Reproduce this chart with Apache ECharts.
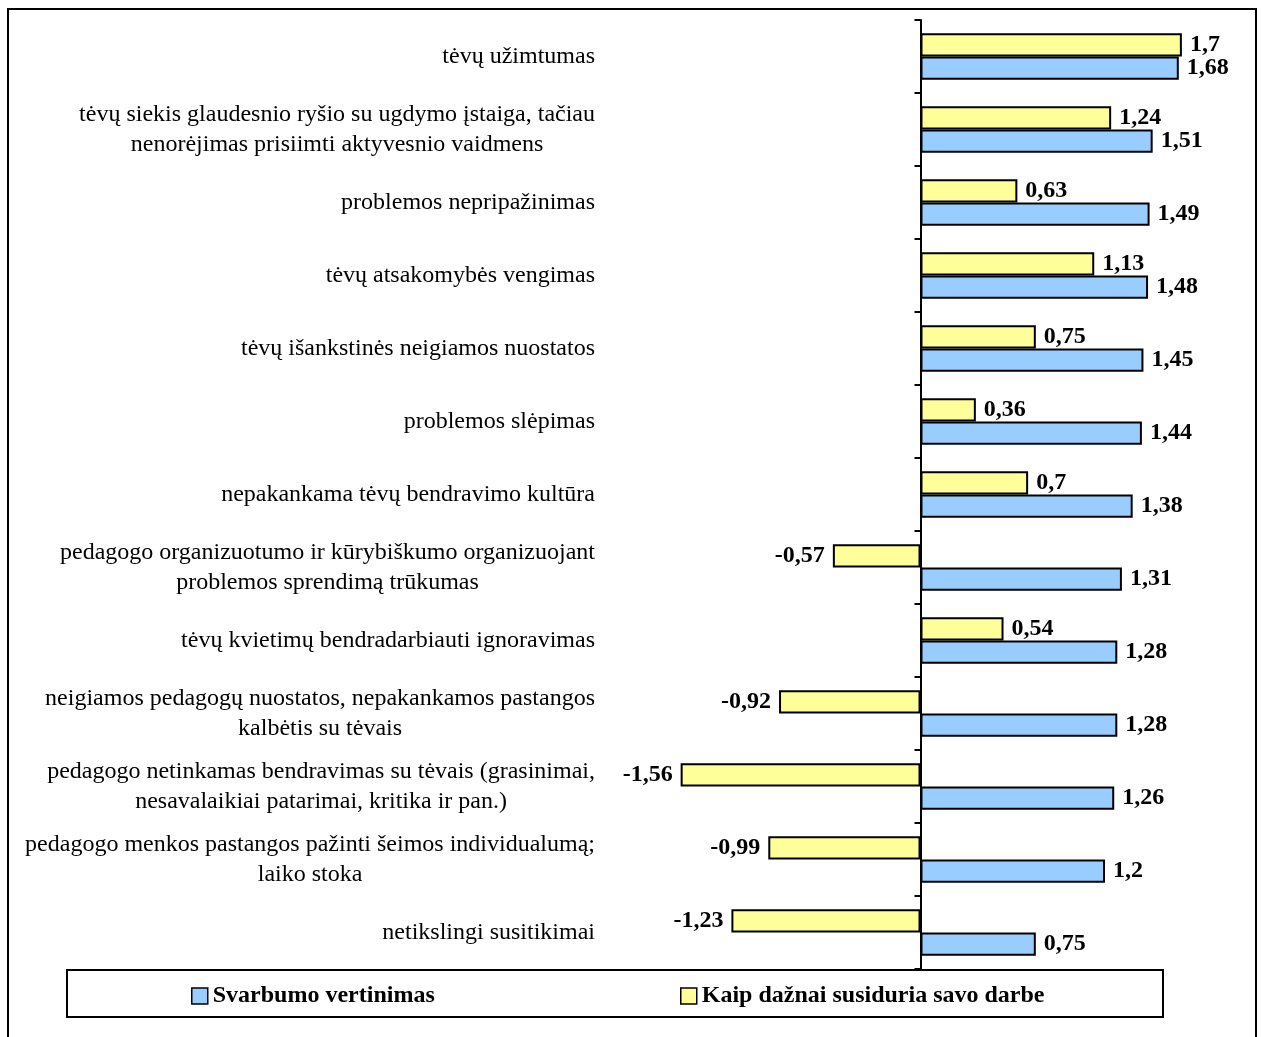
<!DOCTYPE html>
<html>
<head>
<meta charset="utf-8">
<script src="https://cdn.jsdelivr.net/npm/echarts@6/dist/echarts.min.js"></script>
<style>html,body{margin:0;padding:0;background:#fff;}#c{width:1262px;height:1037px;}</style>
</head>
<body>
<div id="c"></div>
<script>
const categories = [
  'tėvų užimtumas',
  'tėvų siekis glaudesnio ryšio su ugdymo įstaiga, tačiau\nnenorėjimas prisiimti aktyvesnio vaidmens',
  'problemos nepripažinimas',
  'tėvų atsakomybės vengimas',
  'tėvų išankstinės neigiamos nuostatos',
  'problemos slėpimas',
  'nepakankama tėvų bendravimo kultūra',
  'pedagogo organizuotumo ir kūrybiškumo organizuojant\nproblemos sprendimą trūkumas',
  'tėvų kvietimų bendradarbiauti ignoravimas',
  'neigiamos pedagogų nuostatos, nepakankamos pastangos\nkalbėtis su tėvais',
  'pedagogo netinkamas bendravimas su tėvais (grasinimai,\nnesavalaikiai patarimai, kritika ir pan.)',
  'pedagogo menkos pastangos pažinti šeimos individualumą;\nlaiko stoka',
  'netikslingi susitikimai'
];
const svarbumo = [1.68, 1.51, 1.49, 1.48, 1.45, 1.44, 1.38, 1.31, 1.28, 1.28, 1.26, 1.2, 0.75];
const daznai = [1.7, 1.24, 0.63, 1.13, 0.75, 0.36, 0.7, -0.57, 0.54, -0.92, -1.56, -0.99, -1.23];
const seriesNames = ['Svarbumo vertinimas', 'Kaip dažnai susiduria savo darbe'];

const fmt = p => String(p.value).replace('.', ',');
const toItems = arr => arr.map(v => v < 0 ? {value: v, label: {position: 'left'}} : {value: v});
const labelStyle = {show: true, position: 'right', distance: 8, formatter: fmt,
  fontFamily: 'Liberation Serif', fontWeight: 'bold', fontSize: 24, color: '#000'};

const gridLeft = 613, xMin = -2, xMax = 2, gridRight = 34;
const plotW = 1262 - gridLeft - gridRight;
const zeroOffset = -plotW * (0 - xMin) / (xMax - xMin);

const chart = echarts.init(document.getElementById('c'), null, {renderer: 'canvas'});
chart.setOption({
  animation: false,
  backgroundColor: '#fff',
  grid: {left: gridLeft, right: gridRight, top: 20, bottom: 68, containLabel: false},
  xAxis: {type: 'value', min: xMin, max: xMax, show: false},
  yAxis: [
    {type: 'category', data: categories, inverse: true, position: 'left',
     axisLine: {show: false}, axisTick: {show: false},
     axisLabel: {margin: 18, fontFamily: 'Liberation Serif', fontSize: 24, color: '#000', lineHeight: 30, align: 'right',
       formatter: v => v.split('\n').map(l => '{c|' + l + '}').join('\n'),
       rich: {c: {align: 'center', fontFamily: 'Liberation Serif', fontSize: 24, lineHeight: 30, color: '#000'}}}},
    {type: 'category', data: categories, inverse: true, position: 'left', offset: zeroOffset,
     axisLine: {show: true, onZero: false, lineStyle: {color: '#000', width: 2}},
     axisTick: {show: true, length: 6, lineStyle: {color: '#000', width: 2}},
     axisLabel: {show: false}}
  ],
  legend: [
    {data: [seriesNames[0]], left: 186, top: 979, itemWidth: 16, itemHeight: 16, itemGap: 6,
     icon: 'rect', itemStyle: {borderColor: '#000', borderWidth: 1.5},
     textStyle: {fontFamily: 'Liberation Serif', fontWeight: 'bold', fontSize: 24, color: '#000'}},
    {data: [seriesNames[1]], left: 675, top: 979, itemWidth: 16, itemHeight: 16, itemGap: 6,
     icon: 'rect', itemStyle: {borderColor: '#000', borderWidth: 1.5},
     textStyle: {fontFamily: 'Liberation Serif', fontWeight: 'bold', fontSize: 24, color: '#000'}}
  ],
  graphic: [
    {type: 'rect', shape: {x: 8, y: 9, width: 1248, height: 1040}, style: {fill: null, stroke: '#000', lineWidth: 2}, silent: true, z: -1},
    {type: 'rect', shape: {x: 67, y: 970, width: 1096, height: 47}, style: {fill: '#fff', stroke: '#000', lineWidth: 2}, silent: true, z: 0}
  ],
  series: [
    {name: seriesNames[1], type: 'bar', data: toItems(daznai), barGap: '0%', barCategoryGap: '36%',
     itemStyle: {color: '#FFFF99', borderColor: '#000', borderWidth: 2}, label: labelStyle},
    {name: seriesNames[0], type: 'bar', data: toItems(svarbumo), barGap: '0%', barCategoryGap: '36%',
     itemStyle: {color: '#99CCFF', borderColor: '#000', borderWidth: 2}, label: labelStyle}
  ]
});
</script>
</body>
</html>
